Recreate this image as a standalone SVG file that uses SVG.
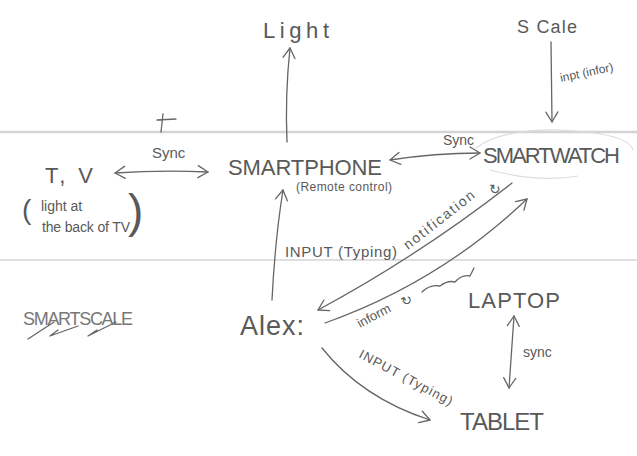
<svg xmlns="http://www.w3.org/2000/svg" width="637" height="456" viewBox="0 0 637 456">
<style>
.t{font-family:"Liberation Sans",Arial,sans-serif;fill:#595959}
.c{fill:none;stroke:#666;stroke-width:1.3;stroke-linecap:round;stroke-linejoin:round}
.rule{stroke:#d4d4d4;fill:none}
.faint{fill:none;stroke:#ddd;stroke-width:1.2}
</style>
<defs>
<marker id="ah" viewBox="-12 -8 14 16" refX="0" refY="0" markerWidth="14" markerHeight="16" markerUnits="userSpaceOnUse" orient="auto-start-reverse">
<path d="M-10 -6 L0 0 L-10 6" fill="none" stroke="#666" stroke-width="1.3" stroke-linecap="round" stroke-linejoin="round"/>
</marker>
</defs>
<rect width="637" height="456" fill="#fff"/>
<g id="background">
<line class="rule" x1="0" y1="132" x2="637" y2="132" stroke-width="2.5"/>
<line class="rule" x1="0" y1="260" x2="637" y2="260" stroke-width="1.5" stroke="#ddd"/>
<path class="c" d="M157 120 L176 119 M163 114 L161 132"/>
</g>
<g id="n-light"><text class="t" x="263" y="38" font-size="22" textLength="66" lengthAdjust="spacing">Light</text></g>
<g id="n-scale"><text class="t" x="517" y="33" font-size="18" textLength="60" lengthAdjust="spacing">S Cale</text></g>
<g id="n-tv">
<text class="t" x="45" y="183" font-size="22" textLength="48" lengthAdjust="spacing">T, V</text>
<text class="t" x="22" y="219" font-size="28">(</text>
<text class="t" x="41" y="211" font-size="14">light at</text>
<text class="t" x="42" y="232" font-size="14" textLength="88" lengthAdjust="spacing">the back of TV</text>
<text class="t" x="128" y="227" font-size="46">)</text>
</g>
<g id="n-smartphone">
<text class="t" x="228" y="175" font-size="22" textLength="154" lengthAdjust="spacing">SMARTPHONE</text>
<text class="t" x="296" y="191" font-size="12" textLength="96" lengthAdjust="spacing">(Remote control)</text>
</g>
<g id="n-smartwatch">
<path class="faint" d="M476 148 Q500 129 560 130 Q628 133 633 150 M490 170 Q540 183 578 176"/>
<text class="t" x="483" y="163" font-size="22" textLength="137" lengthAdjust="spacing">SMARTWATCH</text>
</g>
<g id="n-smartscale">
<text class="t" x="23" y="325" font-size="18" textLength="110" lengthAdjust="spacing" style="fill:#777">SMARTSCALE</text>
<path class="c" stroke="#888" d="M28 339 L54 322 M50 336 L78 326 M50 336 L58 330 M88 336 L116 322 M88 336 L97 330"/>
</g>
<g id="n-alex"><text class="t" x="240" y="335" font-size="27" textLength="64" lengthAdjust="spacing">Alex:</text></g>
<g id="n-laptop"><text class="t" x="468" y="308" font-size="22" textLength="92" lengthAdjust="spacing">LAPTOP</text></g>
<g id="n-tablet"><text class="t" x="460" y="430" font-size="24" textLength="84" lengthAdjust="spacing">TABLET</text></g>
<g id="connectors">
<path class="c" d="M287 142 Q285 95 290 48" marker-end="url(#ah)"/>
<path class="c" d="M551 42 L552 122" marker-end="url(#ah)"/>
<path class="c" d="M115 173 Q160 170 208 172" marker-start="url(#ah)" marker-end="url(#ah)"/>
<path class="c" d="M390 160 Q435 153 480 153" marker-start="url(#ah)" marker-end="url(#ah)"/>
<path class="c" d="M272 300 Q275 240 283 190" marker-end="url(#ah)"/>
<path class="c" d="M512 183 Q420 255 318 310" marker-end="url(#ah)"/>
<path class="c" d="M325 323 Q440 282 527 199" marker-end="url(#ah)"/>
<path class="c" d="M322 348 Q362 398 430 420" marker-end="url(#ah)"/>
<path class="c" d="M514 316 L509 388" marker-start="url(#ah)" marker-end="url(#ah)"/>
<path class="c" stroke="#888" d="M422 292 Q430 284 440 286 Q448 280 455 282 Q462 274 470 276 L474 268"/>
</g>
<g id="labels">
<text class="t" x="152" y="158" font-size="15">Sync</text>
<text class="t" x="443" y="145" font-size="14">Sync</text>
<text class="t" x="561" y="82" font-size="12" transform="rotate(-12 561 82)">inpt (infor)</text>
<text class="t" x="285" y="257" font-size="15" textLength="112" lengthAdjust="spacing">INPUT (Typing)</text>
<text class="t" x="408" y="250" font-size="14" textLength="86" lengthAdjust="spacing" transform="rotate(-38 408 250)">notification</text>
<text class="t" x="489" y="194" font-size="14" style="font-family:'DejaVu Sans',sans-serif">↻</text>
<text class="t" x="360" y="328" font-size="13" transform="rotate(-28 360 328)">inform</text>
<text class="t" x="404" y="307" font-size="13" style="font-family:'DejaVu Sans',sans-serif" transform="rotate(-28 404 307)">↻</text>
<text class="t" x="358" y="357" font-size="13" textLength="104" lengthAdjust="spacing" transform="rotate(28 358 357)">INPUT (Typing)</text>
<text class="t" x="523" y="357" font-size="14">sync</text>
</g>
</svg>
